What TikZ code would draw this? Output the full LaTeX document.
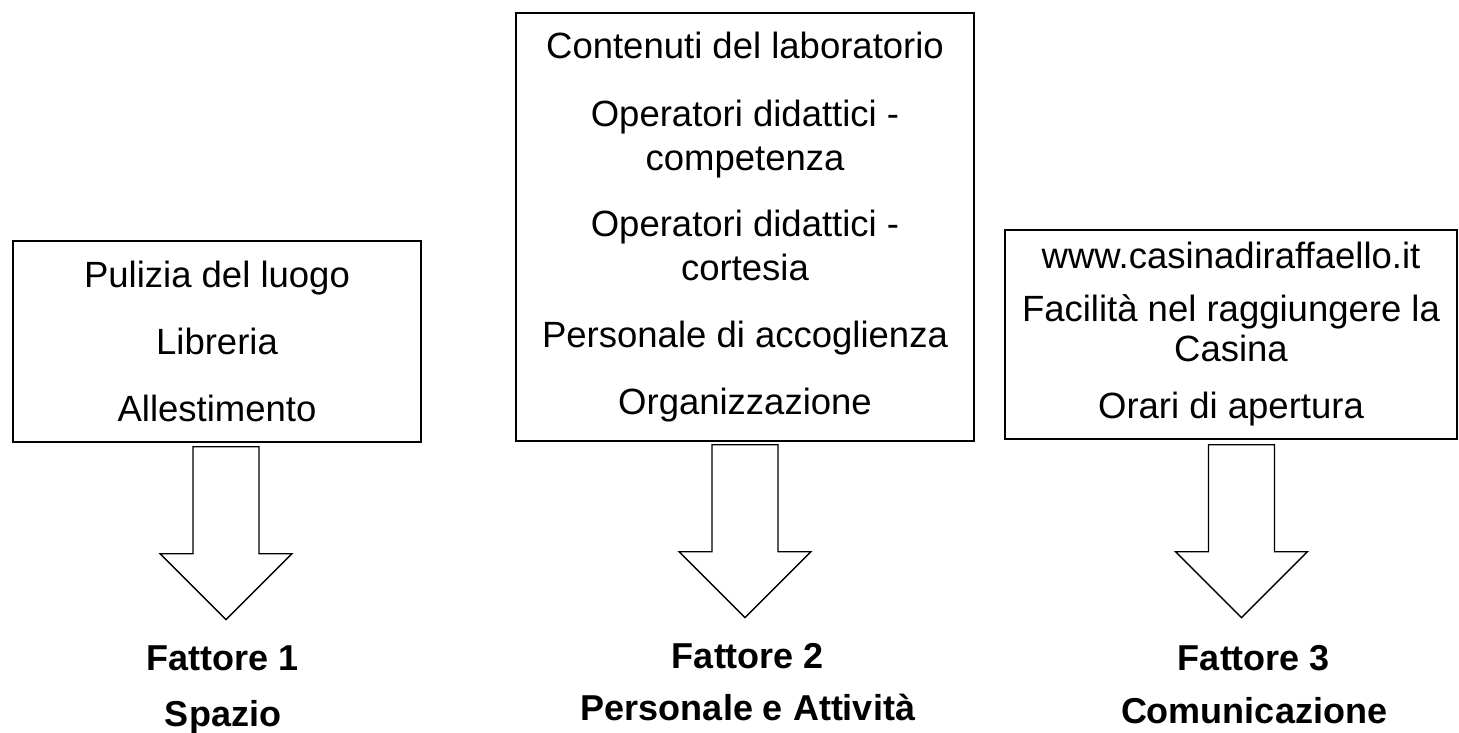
\documentclass[tikz,border=0pt]{standalone}
\usepackage{fontspec}
\setmainfont{Liberation Sans}
\usetikzlibrary{calc}
\tikzset{
	itembox/.style={draw,line width=1.4pt,inner sep=0pt,align=center,font=\fontsize{36.5}{44}\selectfont},
	fattore/.style={anchor=north,inner sep=0pt,align=center,font=\bfseries\fontsize{36}{#1}\selectfont},
	fattore/.default=54,
	bigarrow/.pic={\draw[line width=1.4pt,fill=white] (-33,0)--(33,0)--(33,107)--(66,107)--(0,173)--(-66,107)--(-33,107)--cycle;}
}
\begin{document}
\begin{tikzpicture}[x=1pt,y=-1pt]
	\useasboundingbox (0,0) rectangle (1459,732);
	% riquadri
	\node[itembox,minimum width=408,minimum height=201] (b1) at (217,341.5)
		{Pulizia del luogo\\[23pt]Libreria\\[23pt]Allestimento};
	\node[itembox,minimum width=458,minimum height=428] (b2) at (745,227)
		{Contenuti del laboratorio\\[24pt]Operatori didattici -\\competenza\\[22pt]Operatori didattici -\\cortesia\\[23pt]Personale di accoglienza\\[23pt]Organizzazione};
	\node[itembox,minimum width=452,minimum height=209,font=\fontsize{36.5}{40}\selectfont] (b3) at (1231,334.5)
		{www.casinadiraffaello.it\\[13pt]Facilità nel raggiungere la\\Casina\\[17pt]Orari di apertura};
	% fattori
	\node[fattore=56] (f1) at (223,646) {Fattore 1\\Spazio};
	\node[fattore=52] (f2) at (748,643) {Fattore 2\\Personale e Attività};
	\node[fattore=53] (f3) at (1254,645) {Fattore 3\\Comunicazione};
	% frecce
	\path ($(b1.south)+(9,4)$) pic {bigarrow};
	\path ($(b2.south)+(0,3)$) pic {bigarrow};
	\path ($(b3.south)+(10.5,5)$) pic {bigarrow};
\end{tikzpicture}
\end{document}
